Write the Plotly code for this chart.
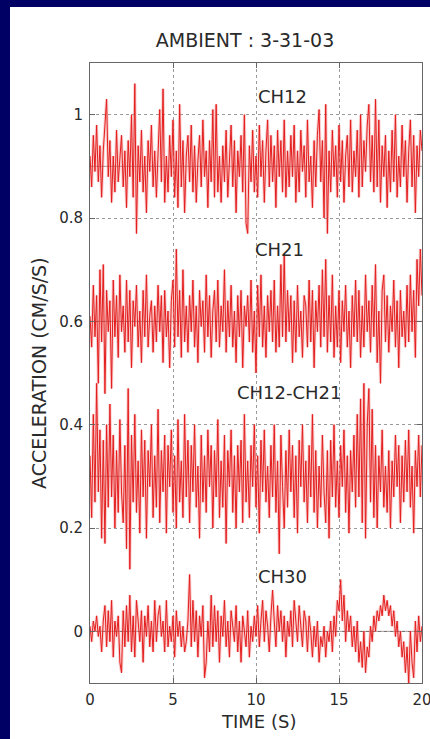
import plotly.graph_objects as go

# ---------------- data ----------------
series_names = ["CH12", "CH21", "CH12-CH21", "CH30"]
series_offsets = [0.9, 0.6, 0.3, 0.0]          # vertical display offsets (cm/s/s)
sample_dt_s = 0.1                               # sampling interval of the listed values

# deviations from each offset, in units of 0.01 cm/s/s
ch12_dev = [
    2, -4, 6, -1, 8, -3, 4, -6, 3, 9,
    13, -2, 5, -7, 2, -5, 7, -3, 1, 6,
    -4, 3, -8, 5, -2, 10, -6, 16, -13, 4,
    -3, 7, -5, 2, -9, 5, -1, 8, -4, 3,
    -6, 4, 11, -3, 15, -7, 2, -5, 6, -2,
    9, -6, 3, -8, 12, -4, 5, -9, 2, 6,
    -3, 8, -5, 4, -7, 1, 6, -4, 9, -2,
    3, -8, 5, -3, 11, -6, 12, -5, 2, -7,
    4, -3, 7, -6, 2, 8, -4, 5, -9, 3,
    -2, 6, -5, 10, -11, -13, 4, -3, 7, -5,
    2, -6, 8, -2, 5, -7, 3, 9, -4, 6,
    -3, 4, -8, 7, -2, 5, -5, 9, -6, 3,
    -4, 6, -2, 8, -7, 3, -5, 7, -1, 4,
    -6, 9, -3, 2, -8, 5, -4, 6, 11, -3,
    5, -10, 12, -13, 3, -5, 7, -2, 4, -6,
    8, -3, 5, -7, 2, 6, -4, 9, -5, 3,
    -2, 7, -6, 10, -4, 5, -1, 8, 12, -3,
    6, -5, 13, -4, 9, -7, 4, -2, 6, -8,
    3, -5, 7, -3, 10, -6, 2, -4, 8, -2,
    5, -7, 3, 9, -4, 6, -9, 4, -2, 7,
    3,
]
ch21_dev = [
    1, -5, 7, -3, 5, -12, 10, -4, 11, -14,
    6, -2, 4, -13, 8, -3, 5, -7, 9, -2,
    3, -6, 8, -4, 6, -9, 4, -1, 7, -5,
    2, -8, 6, -3, 9, -5, 1, 4, -6, 3,
    -4, 7, -2, 5, -8, 6, -3, 2, -9, 4,
    8, -5, 14, -3, 6, -7, 10, -4, 3, -6,
    5, -2, 8, -5, 3, -8, 6, -1, 4, -6,
    9, -3, 5, -7, 2, 6, -4, 8, -5, 3,
    -2, 10, -6, 4, -3, 7, -5, 2, -8, 5,
    -3, 6, -9, 3, -1, 5, -4, 8, -6, 2,
    -10, 7, -3, 9, -5, 3, -7, 5, -2, 6,
    -4, 8, -6, 3, -5, 11, -3, 13, -4, 6,
    -2, 5, -8, 4, -6, 7, -3, 2, -7, 5,
    3, -5, 8, -4, 6, -9, 4, -2, 7, -5,
    10, -3, 12, -6, 5, -4, 9, -7, 3, -5,
    6, -8, 4, -2, 7, -5, 2, -9, 5, -3,
    8, -4, 6, -7, 3, -5, 9, -2, 4, -6,
    7, -3, 11, -8, 2, -12, 6, 9, -4, 5,
    -6, 3, -2, 8, -5, 4, -9, 6, -3, 2,
    -5, 7, -4, 9, -2, 6, -7, 12, 3, 14,
    5,
]
ch12_minus_ch21_dev = [
    4, -8, 12, -5, 18, -3, 9, -12, 7, -13,
    10, -6, 14, -4, 8, -10, 5, -7, 11, -3,
    -9, 6, -14, 17, -18, 8, -5, 12, -7, 3,
    -11, 9, -4, 7, -12, 5, -2, 10, -8, 4,
    -6, 13, -9, 5, -3, 8, -11, 6, -2, 9,
    -7, 4, -10, 11, -5, 3, -8, 12, -4, 7,
    -9, 6, -3, 10, -6, 2, -12, 8, -5, 4,
    -7, 9, -2, 6, -10, 5, -4, 11, -8, 3,
    -6, 8, -13, 5, -2, 9, -7, 4, -10, 6,
    -3, 7, -9, 12, -5, 3, -8, 6, -2, 10,
    -6, 4, -11, 7, -3, 9, -5, 2, -8, 6,
    -4, 10, -7, 3, -15, 8, -2, -10, 5, -6,
    9, -3, 6, -8, 4, -11, 7, -2, 10, -5,
    3, -9, 6, -4, 12, -7, 5, -10, 2, -6,
    8, -3, -9, 5, -12, 7, -4, 10, -6, 3,
    -8, 6, -2, 9, -7, 4, -11, 5, -3, 8,
    -6, 12, -4, 15, -9, 18, -12, 10, 17, -5,
    13, -8, 6, -10, 4, -3, 9, -6, 2, -7,
    5, -10, 3, -4, 8, -2, 6, -9, 4, -5,
    7, -3, 9, -6, 2, -11, 5, -2, 8, -4,
    6,
]
ch30_dev = [
    1, -2, 2, 0, 3, -1, 1, -4, 2, 5,
    -3, 4, -2, 6, -5, 2, -1, 3, -6, -8,
    4, -3, 5, -2, 7, -4, 3, -5, 6, 1,
    -2, 4, -6, 3, -1, 5, -3, 2, -4, 6,
    -2, 3, 5, -1, 2, -4, 6, -3, 1, -2,
    3, -5, 4, -1, 2, -3, 1, -4, -2, 2,
    11, -3, 6, -2, 4, -5, 3, -1, 5, -9,
    -6, 2, -4, 7, -3, 5, -2, 4, -6, 3,
    -1, 6, -3, 2, -5, 4, 1, -2, 5, -4,
    2, -6, 3, 0, -3, 4, -5, 1, -2, 3,
    -1, 5, -3, 2, 6, -2, 4, 1, -4, 3,
    8, 2, -3, 5, 0, 4, -2, 3, -5, 2,
    -1, 4, -3, 6, 2, -2, 5, 1, -3, 4,
    2, -4, 3, 0, -5, 1, -3, 2, -6, -1,
    -3, 1, -5, 0, -2, 2, -4, 3, -1, 6,
    4, 10, 2, 7, -2, 4, 0, 3, -3, 1,
    -4, 2, -6, -2, -7, 0, -8, -3, -5, 1,
    -2, 3, 0, 4, 2, 5, 3, 7, 4, 6,
    3, 5, 1, 4, -1, 2, -3, 0, -5, -2,
    -8, -3, -10, 0, -6, -9, 2, -4, 3, -2,
    1,
]
series_devs = [ch12_dev, ch21_dev, ch12_minus_ch21_dev, ch30_dev]

# label anchor positions (data coords)
label_times = [11.6, 11.4, 12.0, 11.6]
label_values = [1.035, 0.74, 0.462, 0.106]

x_ticks = [0, 5, 10, 15, 20]
y_ticks = [0, 0.2, 0.4, 0.6, 0.8, 1.0]
y_tick_labels = ["0", "0.2", "0.4", "0.6", "0.8", "1"]

# ---------------- figure ----------------
W, H = 430, 739
ML, MR, MT, MB = 90, 8, 63, 56
PW, PH = W - ML - MR, H - MT - MB
FONT = "DejaVu Sans, Liberation Sans, Arial, sans-serif"
TXT = "#2a2a2a"
RED = "rgb(228,30,30)"
NAVY = "#000064"

fig = go.Figure()

# baselines at each offset
for off, dev in zip(series_offsets, series_devs):
    t = [round(i * sample_dt_s, 3) for i in range(len(dev))]
    fig.add_trace(go.Scatter(x=[t[0], t[-1]], y=[off, off], mode="lines",
                             line=dict(color="rgba(90,70,70,0.55)", width=1),
                             hoverinfo="skip", showlegend=False))

for name, off, dev in zip(series_names, series_offsets, series_devs):
    t = [round(i * sample_dt_s, 3) for i in range(len(dev))]
    y = [off + v * 0.01 for v in dev]
    # soft halo to mimic the blurred rendering
    fig.add_trace(go.Scatter(x=t, y=y, mode="lines", hoverinfo="skip",
                             line=dict(color="rgba(240,110,110,0.35)", width=3),
                             showlegend=False))
    fig.add_trace(go.Scatter(x=t, y=y, mode="lines", name=name,
                             line=dict(color=RED, width=1),
                             showlegend=False))

for name, tx, vy in zip(series_names, label_times, label_values):
    fig.add_annotation(x=tx, y=vy, text=name, showarrow=False,
                       font=dict(family=FONT, size=18, color=TXT),
                       xanchor="center", yanchor="middle")

# navy frame strips (left and top) of the slide background
fig.add_shape(type="rect", xref="paper", yref="paper", layer="below",
              x0=-ML / PW - 0.1, x1=(10 - ML) / PW,
              y0=-MB / PH - 0.1, y1=(MT + PH) / PH + 0.1,
              fillcolor=NAVY, line=dict(width=0))
fig.add_shape(type="rect", xref="paper", yref="paper", layer="below",
              x0=-ML / PW - 0.1, x1=(W - ML) / PW + 0.1,
              y0=(MT + PH - 7) / PH, y1=(MT + PH) / PH + 0.1,
              fillcolor=NAVY, line=dict(width=0))

# axis titles
fig.add_annotation(xref="paper", yref="paper", x=(258 - ML) / PW,
                   y=(MT + PH - 721) / PH, text="TIME (S)", showarrow=False,
                   font=dict(family=FONT, size=18, color=TXT),
                   xanchor="center", yanchor="middle")
fig.add_annotation(xref="paper", yref="paper", x=(39 - ML) / PW, y=0.5,
                   text="ACCELERATION (CM/S/S)", showarrow=False, textangle=-90,
                   font=dict(family=FONT, size=19, color=TXT),
                   xanchor="center", yanchor="middle")

axis_common = dict(showline=True, linecolor="#666", linewidth=1, mirror="allticks",
                   ticks="inside", ticklen=5, tickcolor="#666",
                   showgrid=True, gridcolor="#9a9a9a", griddash="dot", gridwidth=1,
                   zeroline=False, automargin=False,
                   tickfont=dict(family=FONT, size=15, color=TXT))

fig.update_layout(
    width=W, height=H,
    margin=dict(l=ML, r=MR, t=MT, b=MB),
    paper_bgcolor="white",
    plot_bgcolor="white",
    title=dict(text="AMBIENT : 3-31-03", x=245 / W, xref="container", xanchor="center",
               y=1 - 40 / H, yref="container", yanchor="middle",
               font=dict(family=FONT, size=19, color=TXT)),
    xaxis=dict(range=[0, 20], tickvals=x_ticks, ticktext=[str(v) for v in x_ticks],
               ticklabelstandoff=3, ticklabeloverflow="allow", **axis_common),
    yaxis=dict(range=[-0.1, 1.1], tickvals=y_ticks, ticktext=y_tick_labels,
               ticklabelstandoff=3, **axis_common),
)

fig.write_html("out.html")
